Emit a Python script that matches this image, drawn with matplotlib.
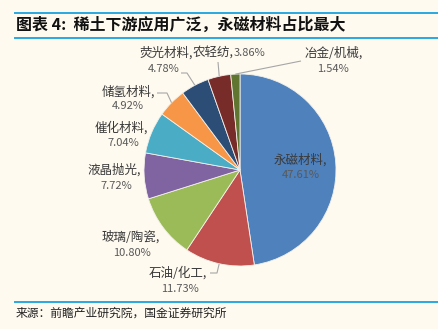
import matplotlib
matplotlib.use("Agg")
import numpy as np
import matplotlib.pyplot as plt

plt.rcParams["font.family"] = ["Noto Sans CJK SC", "DejaVu Sans"]

# 稀土下游应用结构 (clockwise from 12 o'clock)
names = ["永磁材料", "石油/化工", "玻璃/陶瓷", "液晶抛光", "催化材料",
         "储氢材料", "荧光材料", "农轻纺", "冶金/机械"]
shares = [47.61, 11.73, 10.80, 7.72, 7.04, 4.92, 4.78, 3.86, 1.54]
colors = ["#4F81BD", "#C0504D", "#9BBB59", "#8064A2", "#4BACC6",
          "#F79646", "#2C4D75", "#772C2A", "#5F7530"]

title = "图表 4:  稀土下游应用广泛，永磁材料占比最大"
source = "来源：前瞻产业研究院，国金证券研究所"

W, H = 439, 329
BG = "#FEFAF0"
LINE = "#2AA8E0"

fig = plt.figure(figsize=(W / 100, H / 100), dpi=100, facecolor=BG)
ax = fig.add_axes([0, 0, 1, 1])


def py(y):
    # pixel row (top-down) -> axes y (bottom-up)
    return H - y


cx, cy, r = 240, 170, 96
wedges, _ = ax.pie(shares, colors=colors, startangle=90, counterclock=False,
                   center=(cx, py(cy)), radius=r, frame=True,
                   wedgeprops=dict(edgecolor="#F4F1EA", linewidth=0.6))
ax.set_xlim(0, W)
ax.set_ylim(0, H)
ax.set_aspect("equal")
ax.axis("off")

# label layout: name position, percent position, leader points (pixel coords)
layout = {
    "永磁材料": ((300, 160), (301, 175), None),
    "石油/化工": ((178, 273), (180, 289), [(210, 273), (217, 273)]),
    "玻璃/陶瓷": ((131, 237), (132, 253), None),
    "液晶抛光": ((114, 170), (116, 186), None),
    "催化材料": ((121, 128), (123, 143), None),
    "储氢材料": ((128, 92), (128, 106), [(157, 93), (167, 93)]),
    "荧光材料": ((166, 53), (164, 69), [(181, 73), (187, 73)]),
    "农轻纺": ((213, 53), (250, 53), [(218, 62)]),
    "冶金/机械": ((334, 53), (333, 69), [(301, 61)]),
}

cum = np.cumsum([0] + shares[:-1])
for name, share, start in zip(names, shares, cum):
    (nx, ny), (qx, qy), leader = layout[name]
    pct = f"{share:.2f}%"
    ax.text(nx, py(ny), name + ",", ha="center", va="center",
            fontsize=9, color="#3A3A3A")
    ax.text(qx, py(qy), pct, ha="center", va="center",
            fontsize=8, color="#595959")
    if leader:
        mid = np.deg2rad((start + share / 2) / 100 * 360)
        rim = (cx + r * np.sin(mid), cy - r * np.cos(mid))
        pts = leader + [rim]
        ax.plot([p[0] for p in pts], [py(p[1]) for p in pts],
                color="#A6A6A6", lw=0.8, solid_capstyle="butt")

# header / footer rules
for y in (13, 38, 302):
    ax.plot([15, W], [py(y), py(y)], color=LINE, lw=1.4)

ax.text(16, py(25), title, ha="left", va="center", fontsize=11.5,
        fontweight="bold", color="#111111")
ax.text(16, py(313), source, ha="left", va="center", fontsize=8.5,
        color="#222222")

fig.savefig("out.png", dpi=100, facecolor=BG)
